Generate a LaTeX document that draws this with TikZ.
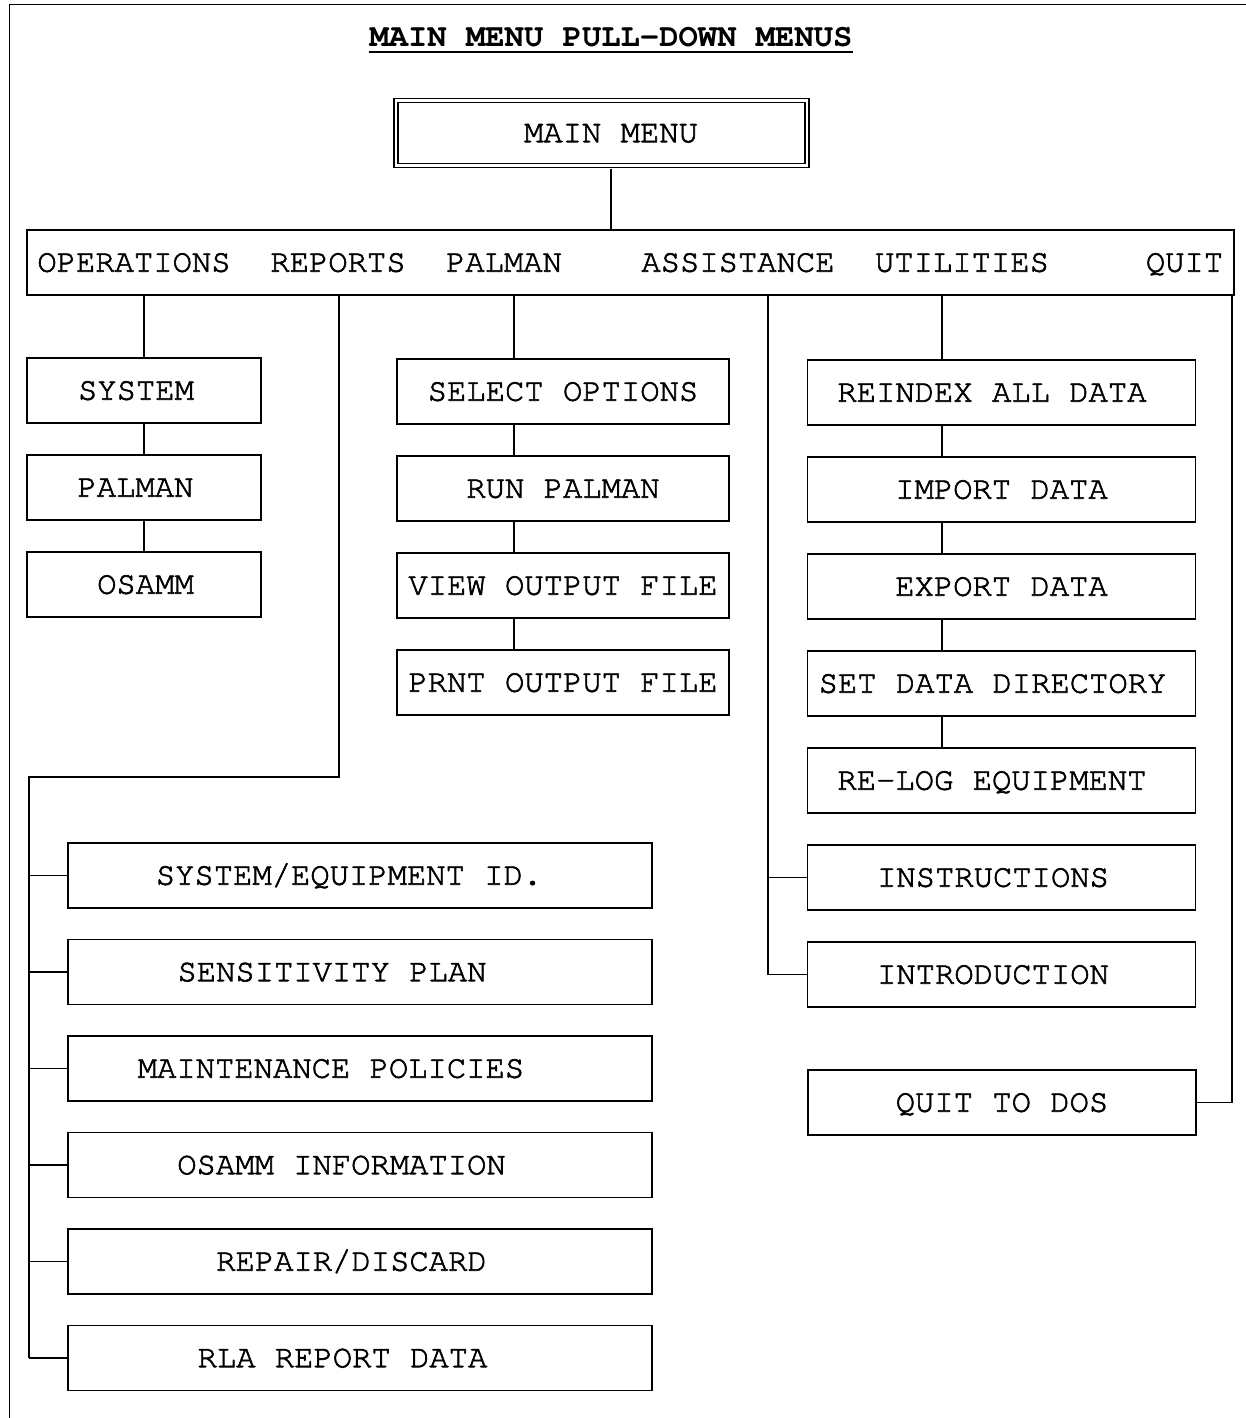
\documentclass[tikz,border=0pt]{standalone}
\usepackage{fontspec}
\newfontfamily\menufont{TeX Gyre Cursor}[FakeBold=2]
\newfontfamily\titlefont{TeX Gyre Cursor}

\tikzset{
  menubox/.style={draw, line width=1.6pt, minimum height=65pt, inner sep=0pt, text height=18.4pt, text depth=0pt},
  menutext/.style={inner sep=0pt, text height=18.4pt, text depth=0pt}
}

\begin{document}
\begin{tikzpicture}[x=1pt,y=-1pt,font=\fontsize{32.2}{36}\menufont,line width=1.6pt]
\useasboundingbox (0,0) rectangle (1246,1418);

%% edge of the scanned page
\draw [line width=1pt] (9,1418) -- (9,5) -- (1246,5);

%% title
\node [menutext, anchor=base, font=\fontsize{32.2}{36}\titlefont\bfseries] (title) at (611,47) {MAIN MENU PULL-DOWN MENUS};
\draw ([yshift=-5pt]title.base west) -- ([yshift=-5pt]title.base east);

%% main menu box
\node [menubox, double, double distance=2.5pt, outer sep=3pt, minimum width=411pt] (mainmenu) at (601.5,133) {\hspace*{19pt}MAIN MENU};

%% menu bar
\node [menubox, minimum width=1207pt] (bar) at (630.5,262.5) {};
\foreach \name/\xpos/\txt in {ops/134/OPERATIONS, rep/338/REPORTS, pal/504/PALMAN, asst/738/ASSISTANCE, util/962/UTILITIES, quit/1184.5/QUIT}
  \node [menutext] (\name) at (\xpos,262.5) {\txt};

\coordinate (maindrop) at (611,230);
\draw (mainmenu.south -| maindrop) -- (maindrop);

% drop points under the bar
\coordinate (opsdrop) at (144,295);
\coordinate (repdrop) at (339,295);
\coordinate (paldrop) at (514,295);
\coordinate (asstdrop) at (768,295);
\coordinate (utildrop) at (942,295);
\coordinate (quitdrop) at (1232,295);

%% operations
\foreach \name/\dx/\txt [count=\i from 0] in {system/-16/SYSTEM, opalman/-17/PALMAN, osamm/3/OSAMM}
  \node [menubox, minimum width=234pt] (\name) at (144,390.5+97*\i) {\hspace*{\dx pt}\txt};
\draw (opsdrop) -- (system.north);
\draw (system) -- (opalman) -- (osamm);

%% palman
\foreach \name/\txt [count=\i from 0] in {selopt/SELECT OPTIONS, runpal/RUN PALMAN, viewout/VIEW OUTPUT FILE, prntout/PRNT OUTPUT FILE}
  \node [menubox, minimum width=332pt] (\name) at (563,391.5+97*\i) {\txt};
\draw (paldrop) -- (paldrop |- selopt.north);
\foreach \a/\b in {selopt/runpal, runpal/viewout, viewout/prntout}
  \draw (paldrop |- \a.south) -- (paldrop |- \b.north);

%% utilities and assistance
\foreach \name/\dx/\txt [count=\i from 0] in {reindex/-19/REINDEX ALL DATA, import/0/IMPORT DATA, export/0/EXPORT DATA, setdir/-18/SET DATA DIRECTORY, relog/-19/RE-LOG EQUIPMENT, instr/-17/INSTRUCTIONS, intro/-17/INTRODUCTION}
  \node [menubox, minimum width=388pt] (\name) at (1001.5,392.5+97*\i) {\hspace*{\dx pt}\txt};
\draw (utildrop) -- (utildrop |- reindex.north);
\foreach \a/\b in {reindex/import, import/export, export/setdir, setdir/relog}
  \draw (utildrop |- \a.south) -- (utildrop |- \b.north);
\draw (asstdrop) |- (intro.west);
\draw (asstdrop |- instr.west) -- (instr.west);

%% quit
\node [menubox, minimum width=388pt] (quitdos) at (1002,1102.5) {QUIT TO DOS};
\draw (quitdrop) |- (quitdos.east);

%% reports
\foreach \name/\dx/\txt [count=\i from 0] in {seid/-22/{SYSTEM/EQUIPMENT ID.}, senspl/-56/SENSITIVITY PLAN, maintpol/-58/MAINTENANCE POLICIES, osinfo/-37/OSAMM INFORMATION, repdis/-17/{REPAIR/DISCARD}, rlarep/-35/RLA REPORT DATA}
  \node [menubox, minimum width=584pt] (\name) at (360,875.5+96.5*\i) {\hspace*{\dx pt}\txt};
\coordinate (repturn) at (339,777);
\coordinate (repcorner) at (29,777);
\draw (repdrop) -- (repturn) -- (repcorner) -- (repcorner |- rlarep.west);
\foreach \name in {seid, senspl, maintpol, osinfo, repdis, rlarep}
  \draw (repcorner |- \name.west) -- (\name.west);

\end{tikzpicture}
\end{document}
